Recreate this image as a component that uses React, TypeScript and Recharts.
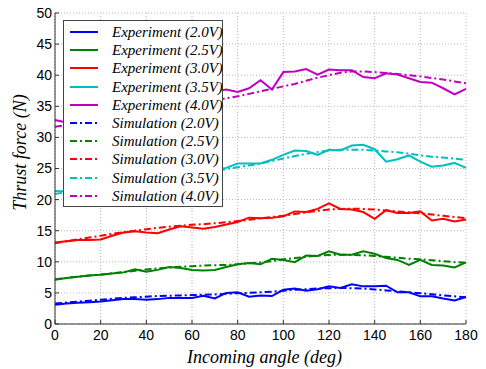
import React from 'react';
import { LineChart, Line, XAxis, YAxis, CartesianGrid, Legend } from 'recharts';

const angles = [0,5,10,15,20,25,30,35,40,45,50,55,60,65,70,75,80,85,90,95,100,105,110,115,120,125,130,135,140,145,150,155,160,165,170,175,180];

const exp20 = [3.1,3.3,3.4,3.5,3.6,3.8,4.0,4.0,3.9,4.0,4.2,4.2,4.2,4.55,4.1,5.0,5.1,4.4,4.6,4.5,5.5,5.7,5.35,5.6,6.05,5.8,6.4,6.05,6.05,6.15,5.1,5.1,4.45,4.45,4.1,3.8,4.35];
const sim20 = [3.3,3.45,3.6,3.75,3.9,4.05,4.2,4.3,4.4,4.5,4.55,4.6,4.65,4.7,4.75,4.85,4.95,5.0,5.1,5.2,5.35,5.5,5.6,5.7,5.75,5.8,5.75,5.7,5.55,5.4,5.25,5.1,4.95,4.8,4.6,4.45,4.3];

const exp25 = [7.1,7.4,7.6,7.8,7.9,8.1,8.3,8.8,8.4,8.7,9.15,9.0,8.7,8.6,8.7,9.15,9.6,9.8,9.6,10.5,10.3,9.95,11.0,10.95,11.7,11.15,11.15,11.7,11.3,10.6,10.3,9.5,10.3,9.5,9.4,9.1,9.9];
const sim25 = [7.2,7.4,7.6,7.8,7.95,8.15,8.35,8.55,8.75,8.95,9.1,9.2,9.3,9.4,9.45,9.5,9.6,9.75,9.9,10.1,10.4,10.6,10.8,11.0,11.1,11.15,11.1,11.05,10.95,10.8,10.65,10.5,10.4,10.25,10.1,9.95,9.85];

const exp30 = [13.1,13.3,13.5,13.5,13.6,14.2,14.7,14.9,14.7,14.6,15.2,15.7,15.5,15.3,15.6,16.0,16.4,17.1,17.0,17.1,17.3,18.1,18.0,18.5,19.4,18.5,18.4,18.0,16.9,18.3,17.85,17.85,18.1,16.65,16.9,16.5,16.8];
const sim30 = [13.0,13.3,13.6,13.9,14.2,14.5,14.75,15.0,15.25,15.45,15.65,15.8,15.95,16.05,16.2,16.35,16.55,16.75,17.0,17.2,17.4,17.7,17.95,18.2,18.4,18.5,18.55,18.5,18.4,18.25,18.1,17.95,17.8,17.6,17.4,17.2,17.0];

const exp35 = [21.4,21.3,21.6,21.9,22.2,22.4,22.7,22.9,23.2,23.4,23.7,24.0,24.2,24.5,24.8,25.1,25.8,25.8,25.8,26.4,27.2,27.9,27.8,27.2,28.0,27.9,28.7,28.8,28.1,26.1,26.5,27.1,26.1,25.3,25.5,25.9,25.1];
const sim35 = [20.9,21.2,21.5,21.8,22.1,22.4,22.7,22.95,23.2,23.45,23.7,23.95,24.2,24.4,24.6,24.9,25.2,25.5,25.8,26.2,26.6,27.0,27.35,27.65,27.9,28.0,28.0,28.0,27.9,27.75,27.6,27.4,27.1,26.9,26.75,26.6,26.4];

const exp40 = [32.8,32.4,33.0,33.4,33.8,34.1,34.5,34.9,35.2,35.5,35.9,36.3,36.7,37.0,37.4,37.7,37.3,37.9,39.2,37.7,40.5,40.6,41.0,40.1,40.9,40.8,40.8,39.7,39.5,40.3,40.1,39.5,38.9,38.8,37.9,36.9,37.8];
const sim40 = [31.7,32.0,32.3,32.6,32.9,33.2,33.5,33.8,34.1,34.4,34.7,35.0,35.3,35.6,35.9,36.3,36.6,37.0,37.4,37.8,38.2,38.6,39.1,39.6,40.0,40.4,40.6,40.6,40.5,40.35,40.2,40.0,39.8,39.55,39.3,39.0,38.7];

const xTicks = [0,20,40,60,80,100,120,140,160,180];
const yTicks = [0,5,10,15,20,25,30,35,40,45,50];

const voltages = ['2.0V','2.5V','3.0V','3.5V','4.0V'];
const colors = ['#0000ff','#008000','#ff0000','#00bfbf','#bf00bf'];
const expSeries = [exp20, exp25, exp30, exp35, exp40];
const simSeries = [sim20, sim25, sim30, sim35, sim40];

const data = angles.map((a, i) => {
  const row: Record<string, number> = { angle: a };
  voltages.forEach((v, k) => {
    row['exp' + k] = expSeries[k][i];
    row['sim' + k] = simSeries[k][i];
  });
  return row;
});

const SIM_DASH = '7 3 2 3';

const legendItems = [
  ...voltages.map((v, k) => ({ label: `Experiment (${v})`, color: colors[k], dash: undefined as string | undefined })),
  ...voltages.map((v, k) => ({ label: `Simulation (${v})`, color: colors[k], dash: SIM_DASH })),
];

const LegendBox = () => (
  <div style={{ boxSizing: 'border-box', background: '#fff', border: '1px solid #444', padding: '2px 0 2px 6px', width: 160, height: 187 }}>
    {legendItems.map((it) => (
      <div key={it.label} style={{ display: 'flex', alignItems: 'center', height: 18.2 }}>
        <svg width={28} height={6} style={{ flex: 'none', display: 'block' }}>
          <line x1={0} y1={3} x2={28} y2={3} stroke={it.color} strokeWidth={2} strokeDasharray={it.dash} />
        </svg>
        <span style={{ marginLeft: 14, fontFamily: '"Liberation Serif", "Times New Roman", serif', fontStyle: 'italic', fontSize: 15, color: '#000', whiteSpace: 'nowrap', lineHeight: '16px' }}>
          {it.label}
        </span>
      </div>
    ))}
  </div>
);

const tickStyle = { fontFamily: '"Liberation Sans", Arial, sans-serif', fontSize: 14, fill: '#000' };
const axisStroke = '#333';

export default function App() {
  return (
    <div style={{ position: 'absolute', left: 0, top: 0, width: 486, height: 369, background: '#fff' }}>
      <LineChart width={486} height={369} data={data} margin={{ top: 13, right: 20, left: 0, bottom: 0 }}>
        <CartesianGrid stroke="#b8b8b8" strokeDasharray="1 2" horizontalValues={yTicks} verticalValues={xTicks} />
        <XAxis
          dataKey="angle"
          type="number"
          domain={[0, 180]}
          ticks={xTicks}
          height={45}
          tickSize={-4}
          tickMargin={10}
          tick={tickStyle}
          stroke={axisStroke}
          interval={0}
          label={{
            value: 'Incoming angle (deg)',
            position: 'insideBottom',
            offset: 6,
            dx: 4,
            style: { fontFamily: '"Liberation Serif", "Times New Roman", serif', fontStyle: 'italic', fontSize: 18, fill: '#000' },
          }}
        />
        <XAxis
          xAxisId="top"
          dataKey="angle"
          type="number"
          orientation="top"
          domain={[0, 180]}
          ticks={xTicks}
          height={0}
          tickSize={-4}
          tick={false}
          stroke={axisStroke}
          interval={0}
        />
        <YAxis
          type="number"
          domain={[0, 50]}
          ticks={yTicks}
          width={55}
          tickSize={-4}
          tickMargin={7}
          tick={tickStyle}
          stroke={axisStroke}
          interval={0}
          label={{
            value: 'Thrust force (N)',
            angle: -90,
            position: 'insideLeft',
            offset: 20,
            dy: -16,
            style: { textAnchor: 'middle', fontFamily: '"Liberation Serif", "Times New Roman", serif', fontStyle: 'italic', fontSize: 18, fill: '#000' },
          }}
        />
        <YAxis
          yAxisId="right"
          type="number"
          orientation="right"
          domain={[0, 50]}
          ticks={yTicks}
          width={0}
          tickSize={-4}
          tick={false}
          stroke={axisStroke}
          interval={0}
        />
        {voltages.map((v, k) => (
          <Line
            key={'exp' + k}
            type="linear"
            dataKey={'exp' + k}
            stroke={colors[k]}
            strokeWidth={2}
            dot={false}
            isAnimationActive={false}
          />
        ))}
        {voltages.map((v, k) => (
          <Line
            key={'sim' + k}
            type="linear"
            dataKey={'sim' + k}
            stroke={colors[k]}
            strokeWidth={2}
            strokeDasharray={SIM_DASH}
            dot={false}
            isAnimationActive={false}
          />
        ))}
        <Legend
          layout="vertical"
          align="center"
          verticalAlign="middle"
          content={() => <LegendBox />}
          wrapperStyle={{ position: 'absolute', left: 63, top: 20, width: 'auto', height: 'auto' }}
        />
      </LineChart>
    </div>
  );
}
